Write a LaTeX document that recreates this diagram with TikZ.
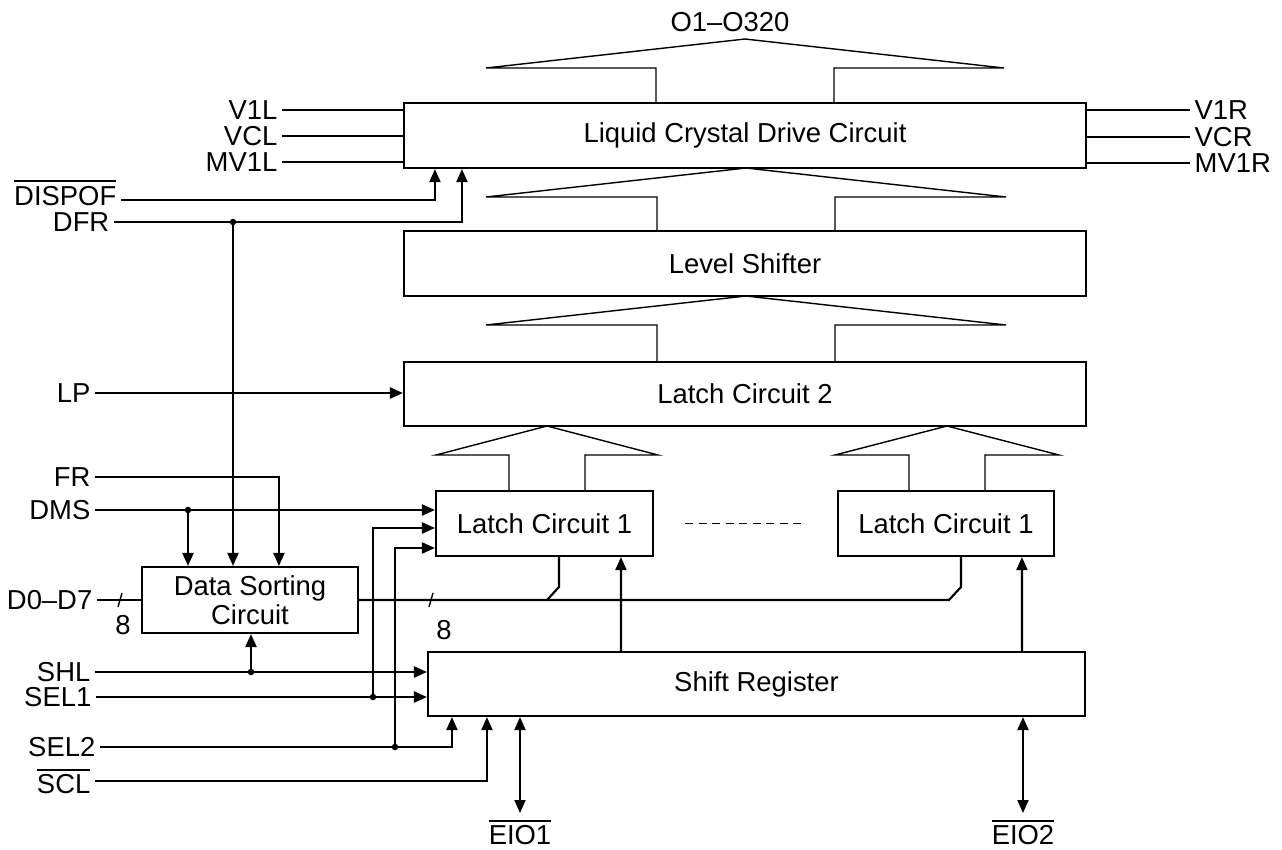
\documentclass[tikz,border=0pt]{standalone}
\usepackage{fontspec}
\setmainfont{Liberation Sans}
\usetikzlibrary{arrows.meta,calc}

\newcommand{\ovl}[1]{$\overline{\mbox{#1}}$}

\tikzset{
  blk/.style={draw, line width=0.6pt, inner sep=0pt, minimum height=6.5mm},
  sig/.style={line width=0.6pt},
  bus/.style={line width=0.4pt},
  pin/.style={inner xsep=0.4mm, inner ysep=0pt},
  pinb/.style={inner sep=0.5mm},
  dot/.style={circle, fill, inner sep=0pt, minimum size=0.65mm},
}

\begin{document}
\begin{tikzpicture}[x=0.1mm, y=-0.1mm, >={Triangle[length=1.3mm,width=1.1mm]}, font=\fontsize{7.8}{8.3}\selectfont]
  \useasboundingbox (0,0) rectangle (1282,850);

  % blocks
  \node[blk, minimum width=68.2mm] (lcd) at (745,135.5) {Liquid Crystal Drive Circuit};
  \node[blk, minimum width=68.2mm] (ls) at (745,263.5) {Level Shifter};
  \node[blk, minimum width=68.2mm, minimum height=6.4mm] (lc2) at (745,394) {Latch Circuit 2};
  \node[blk, minimum width=21.7mm] (lc1a) at (544.5,523.5) {Latch Circuit 1};
  \node[blk, minimum width=21.6mm] (lc1b) at (946,523.5) {Latch Circuit 1};
  \node[blk, minimum width=21.6mm, minimum height=6.6mm, align=center] (dsc) at (250,600) {Data Sorting\\Circuit};
  \node[blk, minimum width=65.7mm, minimum height=6.4mm] (sr) at (756.5,684) {Shift Register};

  % bus fans
  \foreach \ax/\ay/\hw/\st/\by in {745/39/259/89/103, 746/168/260/89/231, 746/296/260/89/362, 547/426/111/38/491, 947/426/112/38/491}
    \draw[bus] (\ax-\st,\by) |- (\ax-\hw,\ay+29) -- (\ax,\ay) -- (\ax+\hw,\ay+29) -| (\ax+\st,\by);
  \node (out) at (730,22) {O1–O320};

  % pins, left
  \node[pin, anchor=east] (v1l) at (282,110) {V1L};
  \node[pin, anchor=east] (vcl) at (282,136) {VCL};
  \node[pin, anchor=east] (mv1l) at (282,162) {MV1L};
  \node[pin, anchor=base east] (dispof) at (121,205) {\ovl{DISPOF}};
  \node[pin, anchor=east] (dfr) at (114,222) {DFR};
  \node[pin, anchor=east] (lp) at (95,393) {LP};
  \node[pin, anchor=east] (fr) at (95,477) {FR};
  \node[pin, anchor=east] (dms) at (95,510) {DMS};
  \node[pin, anchor=east] (dd) at (97,600) {D0–D7};
  \node[pin, anchor=east] (shl) at (95,672) {SHL};
  \node[pin, anchor=east] (sel1) at (96,697) {SEL1};
  \node[pin, anchor=east] (sel2) at (100,747) {SEL2};
  \node[pin, anchor=east] (scl) at (95,781) {\ovl{SCL}};

  % pins, right and bottom
  \node[pin, anchor=west] (v1r) at (1190,110) {V1R};
  \node[pin, anchor=west] (vcr) at (1190,137) {VCR};
  \node[pin, anchor=west] (mv1r) at (1190,163) {MV1R};
  \node[pinb, anchor=north] (eio1) at (520,813) {\ovl{EIO1}};
  \node[pinb, anchor=north] (eio2) at (1023,813) {\ovl{EIO2}};

  % junctions
  \node[dot] (jdfr) at (233,222) {};
  \node[dot] (jdms) at (188,510) {};
  \node[dot] (jshl) at (251,672) {};
  \node[dot] (jsel1) at (373,697) {};
  \node[dot] (jsel2) at (395,747) {};

  % supply lines
  \draw[sig] (v1l.east) -- (v1l.east -| lcd.west);
  \draw[sig] (vcl.east) -- (vcl.east -| lcd.west);
  \draw[sig] (mv1l.east) -- (mv1l.east -| lcd.west);
  \draw[sig] (v1r.west) -- (v1r.west -| lcd.east);
  \draw[sig] (vcr.west) -- (vcr.west -| lcd.east);
  \draw[sig] (mv1r.west) -- (mv1r.west -| lcd.east);

  % control inputs
  \draw[sig,->] (dispof.base east) ++(0,-5) -| ($(lcd.south west)+(32,0)$);
  \draw[sig,->] (dfr.east) -| ($(lcd.south west)+(59,0)$);
  \draw[sig,->] (jdfr.center) -- (jdfr.center |- dsc.north);
  \draw[sig,->] (lp.east) -- (lp.east -| lc2.west);
  \draw[sig,->] (fr.east) -| ($(dsc.north west)+(138,0)$);
  \draw[sig,->] (dms.east) -- (dms.east -| lc1a.west);
  \draw[sig,->] (jdms.center) -- (jdms.center |- dsc.north);
  \draw[sig,->] (jsel1.center) |- ($(lc1a.west)+(0,4.5)$);
  \draw[sig,->] (jsel2.center) |- ($(lc1a.west)+(0,24.5)$);
  \draw[sig,->] (shl.east) -- (shl.east -| sr.west);
  \draw[sig,->] (jshl.center) -- (jshl.center |- dsc.south);
  \draw[sig,->] (sel1.east) -- (sel1.east -| sr.west);
  \draw[sig,->] (sel2.east) -| ($(sr.south west)+(25,0)$);
  \draw[sig,->] (scl.east) -| ($(sr.south west)+(60,0)$);

  % data bus
  \draw[sig] (dd.east) -- (dd.east -| dsc.west);
  \draw[bus] (118,607) -- (122,593);
  \node (w1) at (123,625) {8};
  \draw[sig] (dsc.east) -- (949,600) -- (961,587) -- (961,587 |- lc1b.south);
  \draw[sig] (547,600) -- (559,587) -- (559,587 |- lc1a.south);
  \draw[bus] (429,607) -- (433,593);
  \node (w2) at (444,630) {8};

  % shift register outputs
  \draw[sig,->] ($(sr.north west)+(194,0)$) -- ($(lc1a.south west)+(186,0)$);
  \draw[sig,->] ($(sr.north west)+(595,0)$) -- ($(lc1b.south west)+(185,0)$);
  \draw[sig,<->] (eio1.north) -- (eio1.north |- sr.south);
  \draw[sig,<->] (eio2.north) -- (eio2.north |- sr.south);

  \draw[bus, dash pattern=on 0.8mm off 0.55mm] ($(lc1a.east)+(31,0)$) -- ($(lc1b.west)+(-35,0)$);
\end{tikzpicture}
\end{document}
